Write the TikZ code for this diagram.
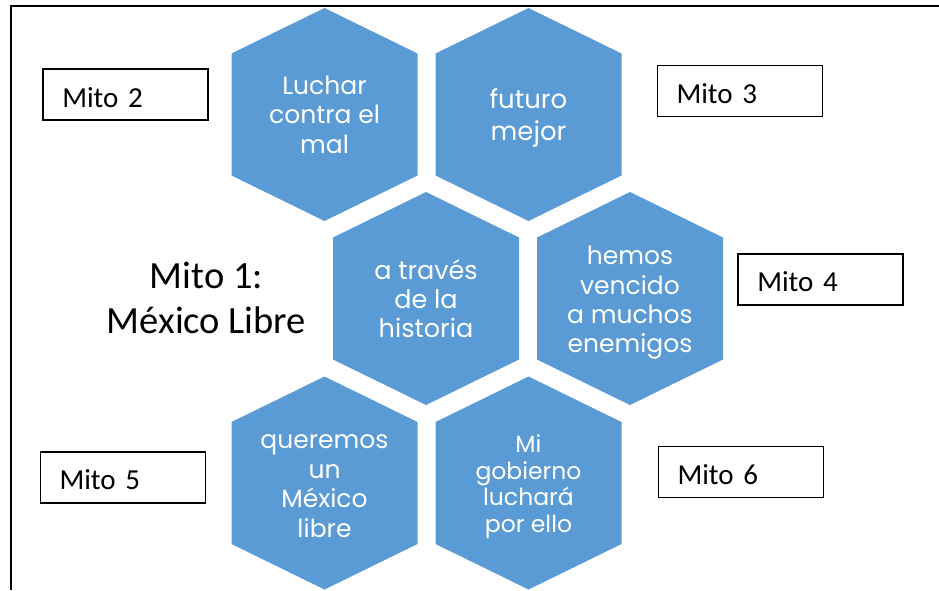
\documentclass[tikz,border=0pt]{standalone}
\usepackage{fontspec}
\setmainfont{Carlito}
\newfontfamily\hexfont{Poppins}
\usetikzlibrary{backgrounds}
\definecolor{hexblue}{RGB}{91,155,213}
\tikzset{
  hexshape/.style={minimum width=186pt, minimum height=213pt, inner sep=0pt, outer sep=0pt},
  hexfill/.style={fill=hexblue},
  hextext/.style={align=center, text=white, inner sep=0pt},
  mitobox/.style={draw=black, line width=1.8pt, inner xsep=19pt, inner ysep=0pt, text width=127pt, minimum height=51pt, align=left, text height=24.4pt, text depth=0pt, font=\fontsize{29}{35}\selectfont},
  frameline/.style={line width=1.8pt},
  titletext/.style={align=center, font=\fontsize{38.5}{45}\selectfont}
}
\begin{document}
\begin{tikzpicture}[x=1pt,y=-1pt]
\useasboundingbox (0,0) rectangle (939,590);
% frame
\coordinate (fA) at (11,590);
\coordinate (fB) at (11,6);
\coordinate (fC) at (939,6);
\draw[frameline] (fA) -- (fB) -- (fC);
% hexagon shapes
\node[hexshape] (h1) at (324.5,114.5) {};
\node[hexshape] (h2) at (528.5,114.5) {};
\node[hexshape] (h3) at (426,298.5) {};
\node[hexshape] (h4) at (630,298.5) {};
\node[hexshape] (h5) at (324.5,483) {};
\node[hexshape] (h6) at (528.5,483) {};
\begin{scope}[on background layer]
\foreach \i in {1,...,6}
  \fill[hexfill] (h\i.north) -- ([yshift=-45.5pt]h\i.north east) -- ([yshift=45.5pt]h\i.south east)
    -- (h\i.south) -- ([yshift=45.5pt]h\i.south west) -- ([yshift=-45.5pt]h\i.north west) -- cycle;
\end{scope}
% hexagon texts
\node[hextext, font=\hexfont\fontsize{25}{29.5}\selectfont] (t1) at ([yshift=0pt]h1.center) {Luchar\\contra el\\mal};
\node[hextext, font=\hexfont\fontsize{26}{31.7}\selectfont] (t2) at ([yshift=-3.5pt]h2.center) {futuro\\mejor};
\node[hextext, font=\hexfont\fontsize{25.5}{29.2}\selectfont] (t3) at ([yshift=0pt]h3.center) {a través\\de la\\historia};
\node[hextext, font=\hexfont\fontsize{25}{29.3}\selectfont] (t4) at ([yshift=-4.5pt]h4.center) {hemos\\vencido\\a muchos\\enemigos};
\node[hextext, font=\hexfont\fontsize{25}{29.5}\selectfont] (t5) at ([yshift=-3pt]h5.center) {queremos\\un\\México\\libre};
\node[hextext, font=\hexfont\fontsize{23.5}{26.7}\selectfont] (t6) at ([yshift=-3.5pt]h6.center) {Mi\\gobierno\\luchará\\por ello};
% title
\node[titletext] (m1) at (206.5,297.5) {Mito 1:\\México Libre};
% boxes
\node[mitobox] (m2) at (125.8,94.8) {Mito 2};
\node[mitobox] (m3) at (740,90.9) {Mito 3};
\node[mitobox] (m4) at (820.8,279.5) {Mito 4};
\node[mitobox] (m5) at (123,477.7) {Mito 5};
\node[mitobox] (m6) at (741,472) {Mito 6};
\end{tikzpicture}
\end{document}
